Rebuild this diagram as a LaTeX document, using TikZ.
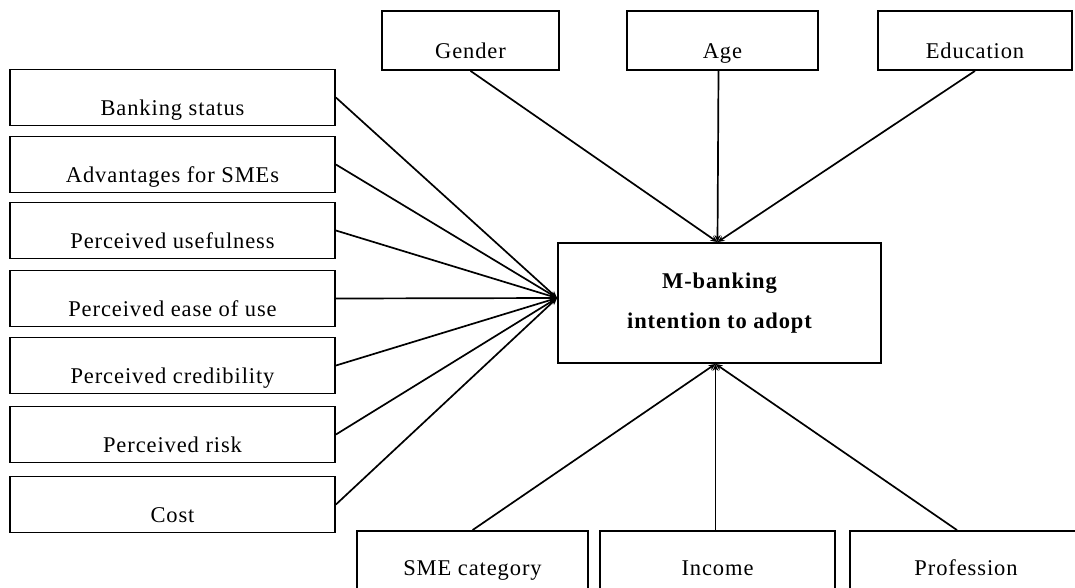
\documentclass[tikz,border=0pt]{standalone}
\usepackage{fontspec}
\setmainfont{Liberation Serif}[LetterSpace=4]
\usetikzlibrary{arrows.meta}
\begin{document}
\begin{tikzpicture}[x=1pt,y=-1pt,
  box/.style={draw, line width=1.8pt, inner sep=0pt, font=\fontsize{22.5}{26}\selectfont},
  lbox/.style={box, minimum width=325pt, text height=46pt, text depth=10pt},
  tbox/.style={box, text height=47pt, text depth=12pt},
  bbox/.style={box, text height=44pt, text depth=16pt},
  arr/.style={line width=1.7pt, -{Stealth[length=7pt,width=6pt]}}]
\useasboundingbox[fill=white] (0,0) rectangle (1075,587);
\clip (0,0) rectangle (1075,587);
% left factors
\node[lbox] (bank) at (172.5,97.5) {Banking status};
\node[lbox] (adv) at (172.5,164.5) {Advantages for SMEs};
\node[lbox] (use) at (172.5,230.5) {Perceived usefulness};
\node[lbox] (ease) at (172.5,298.5) {Perceived ease of use};
\node[lbox] (cred) at (172.5,365.5) {Perceived credibility};
\node[lbox] (risk) at (172.5,434.5) {Perceived risk};
\node[lbox] (cost) at (172.5,504.5) {Cost};
% top factors
\node[tbox, minimum width=177pt] (gender) at (470.5,40.5) {Gender};
\node[tbox, minimum width=191pt] (age) at (722.5,40.5) {Age};
\node[tbox, minimum width=194pt] (edu) at (975,40.5) {Education};
% bottom factors
\node[bbox, minimum width=231pt] (sme) at (472.5,561) {SME category};
\node[bbox, minimum width=235pt] (inc) at (717.5,561) {Income};
\node[bbox, minimum width=232pt] (prof) at (966,561) {Profession};
% center
\node[draw, line width=1.8pt, minimum width=323pt, minimum height=120pt, align=center,
  font=\fontsize{22.5}{40}\selectfont\bfseries] (m) at (719.5,303) {M-banking\\intention to adopt};
\coordinate (mw) at ([yshift=5pt]m.west);
\coordinate (mn) at ([xshift=-2pt]m.north);
\coordinate (ms) at ([xshift=-4pt]m.south);
% connectors
\foreach \n in {bank,adv,use,ease,cred,risk,cost}
  \draw[arr] (\n.east) -- (mw);
\draw[arr] (gender.south) -- (mn);
\draw[arr] ([xshift=-4pt]age.south) -- (mn);
\draw[arr] (edu.south) -- (mn);
\draw[arr] (sme.north) -- (ms);
\draw[arr] ([xshift=-2pt]inc.north) -- (ms);
\draw[arr] ([xshift=-9pt]prof.north) -- (ms);
\end{tikzpicture}
\end{document}
